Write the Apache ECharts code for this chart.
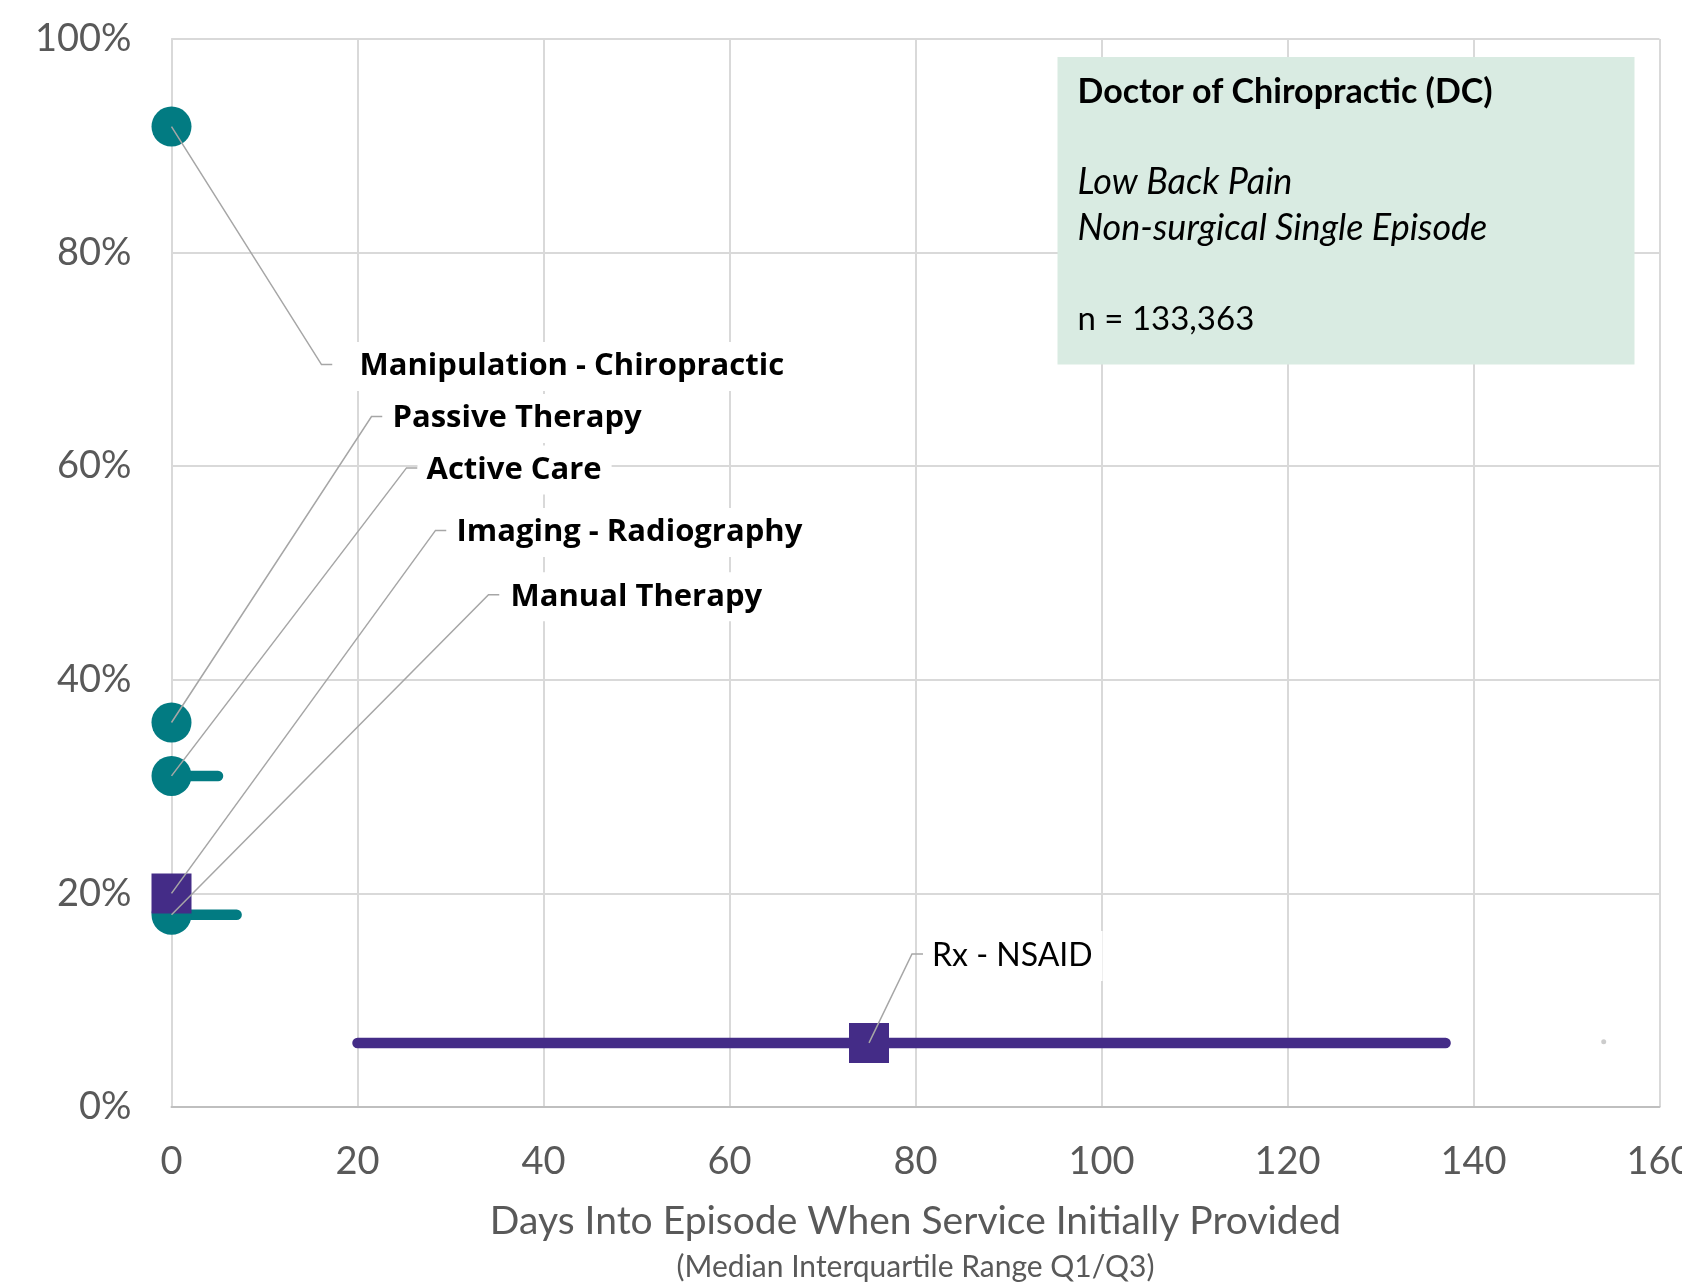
<!DOCTYPE html>
<html>
<head>
<meta charset="utf-8">
<script src="https://cdn.jsdelivr.net/npm/echarts@6/dist/echarts.min.js"></script>
<style>
  html, body { margin: 0; padding: 0; background: #ffffff; }
  #chart { width: 1682px; height: 1285px; }
</style>
</head>
<body>
<div id="chart"></div>
<script>
// ---------------- data ----------------
const services = ['Manipulation - Chiropractic', 'Passive Therapy', 'Active Care', 'Imaging - Radiography', 'Manual Therapy', 'Rx - NSAID'];
const serviceType = ['therapy', 'therapy', 'therapy', 'other', 'therapy', 'other'];
const shareOfEpisodes = [0.918, 0.36, 0.31, 0.20, 0.18, 0.06];
const medianDay = [0, 0, 0, 0, 0, 75];
const q1Day = [0, 0, 0, 0, 0, 20];
const q3Day = [0, 0, 5, 0, 7, 137];
const strayPoint = [[154, 0.061]];
const xTicks = [0, 20, 40, 60, 80, 100, 120, 140, 160];
const yTicks = [0, 0.2, 0.4, 0.6, 0.8, 1.0];
const infoLines = ['Doctor of Chiropractic (DC)', 'Low Back Pain', 'Non-surgical Single Episode', 'n = 133,363'];
const xTitle = 'Days Into Episode When Service Initially Provided';
const xSubtitle = '(Median Interquartile Range Q1/Q3)';

// ---------------- styles / layout ----------------
const FONT = 'Lato';
const LABEL_BOLD_FONT = 'bold 31px "Open Sans"';
const LABEL_REG_FONT = '32px Lato';
const typeColor = { therapy: '#027b82', other: '#442c87' };
const typeSymbol = { therapy: 'circle', other: 'rect' };
// label placement: pixel offsets from the marker to the label text start / centre
const labelPlacement = {
  'Manipulation - Chiropractic': { dx: 188, dy: 240, gap: 27, bold: true },
  'Passive Therapy': { dx: 221, dy: -304, gap: 10, bold: true },
  'Active Care': { dx: 255, dy: -306, gap: 9, bold: true },
  'Imaging - Radiography': { dx: 285, dy: -361, gap: 10, bold: true },
  'Manual Therapy': { dx: 339, dy: -318, gap: 11, bold: true },
  'Rx - NSAID': { dx: 63, dy: -87, gap: 9, bold: false }
};

const GRID = { left: 171.5, top: 39, width: 1488, height: 1068 };

const chart = echarts.init(document.getElementById('chart'), null, { renderer: 'canvas' });

function idxOf(type) {
  const out = [];
  serviceType.forEach((t, i) => { if (t === type) out.push(i); });
  return out;
}

const series = [];
['therapy', 'other'].forEach((type, k) => {
  const ids = idxOf(type);
  const color = typeColor[type];
  series.push({
    type: 'custom',
    name: type + '-iqr',
    z: 2 + k * 2,
    encode: { x: [1, 2], y: 0 },
    data: ids.map(i => [shareOfEpisodes[i], q1Day[i], q3Day[i]]),
    renderItem: function (params, api) {
      const y = api.value(0), a = api.value(1), b = api.value(2);
      if (a === b) return null;
      const p1 = api.coord([a, y]);
      const p2 = api.coord([b, y]);
      return {
        type: 'line',
        shape: { x1: p1[0], y1: p1[1], x2: p2[0], y2: p2[1] },
        style: { stroke: color, lineWidth: 10.5, lineCap: 'round', fill: 'none' }
      };
    }
  });
  series.push({
    type: 'scatter',
    name: type,
    z: 3 + k * 2,
    symbol: typeSymbol[type],
    symbolSize: 40,
    itemStyle: { color: color, opacity: 1 },
    emphasis: { disabled: true },
    data: ids.map(i => [medianDay[i], shareOfEpisodes[i]])
  });
});

series.push({
  type: 'scatter',
  name: 'stray',
  z: 6,
  symbol: 'circle',
  symbolSize: 5,
  itemStyle: { color: '#bfbfbf' },
  data: strayPoint
});

series.push({
  type: 'custom',
  name: 'labels',
  z: 10,
  encode: { x: 0, y: 1 },
  data: services.map((s, i) => [medianDay[i], shareOfEpisodes[i], i]),
  renderItem: function (params, api) {
    const i = api.value(2);
    const name = services[i];
    const L = labelPlacement[name];
    const p = api.coord([api.value(0), api.value(1)]);
    const tx = p[0] + L.dx;
    const ty = p[1] + L.dy;
    const ex = tx - L.gap;
    const ey = ty - 2;
    return {
      type: 'group',
      children: [
        {
          type: 'polyline',
          shape: { points: [[p[0], p[1]], [ex - 11, ey], [ex, ey]] },
          style: { stroke: '#a6a6a6', lineWidth: 1.5, fill: 'none' }
        },
        {
          type: 'text',
          x: ex,
          y: ty,
          style: {
            text: name,
            font: L.bold ? LABEL_BOLD_FONT : LABEL_REG_FONT,
            fill: '#000000',
            align: 'left',
            verticalAlign: 'middle',
            backgroundColor: '#ffffff',
            padding: [9, 10, 9, L.gap]
          }
        }
      ]
    };
  }
});

const infoY = [92, 182.5, 228, 319.5];
const infoFont = ['bold 34px ' + FONT, 'italic 36px ' + FONT, 'italic 36px ' + FONT, '33px ' + FONT];

const graphics = [
  {
    type: 'rect',
    shape: { x: 1057.5, y: 57, width: 577, height: 307.5 },
    style: { fill: '#d9ebe2' },
    z: 20
  }
];
infoLines.forEach((t, i) => {
  graphics.push({
    type: 'text',
    x: 1077.5,
    y: infoY[i],
    z: 21,
    style: { text: t, font: infoFont[i], fill: '#000000', align: 'left', verticalAlign: 'middle' }
  });
});
graphics.push({
  type: 'text', x: GRID.left + GRID.width / 2, y: 1221, z: 21,
  style: { text: xTitle, font: '39px ' + FONT, fill: '#595959', align: 'center', verticalAlign: 'middle' }
});
graphics.push({
  type: 'text', x: GRID.left + GRID.width / 2, y: 1267, z: 21,
  style: { text: xSubtitle, font: '30px ' + FONT, fill: '#595959', align: 'center', verticalAlign: 'middle' }
});

const option = {
  animation: false,
  backgroundColor: '#ffffff',
  grid: {
    left: GRID.left, top: GRID.top, width: GRID.width, height: GRID.height,
    containLabel: false, outerBoundsMode: 'none'
  },
  xAxis: {
    type: 'value',
    min: xTicks[0],
    max: xTicks[xTicks.length - 1],
    interval: xTicks[1] - xTicks[0],
    axisLine: { show: true, lineStyle: { color: '#bfbfbf', width: 2 } },
    axisTick: { show: false },
    axisLabel: { show: true, fontFamily: FONT, fontSize: 38, color: '#595959', margin: 36, hideOverlap: false, showMaxLabel: true, showMinLabel: true },
    splitLine: { show: true, lineStyle: { color: '#d9d9d9', width: 2 } }
  },
  yAxis: {
    type: 'value',
    min: yTicks[0],
    max: yTicks[yTicks.length - 1],
    interval: yTicks[1] - yTicks[0],
    axisLine: { show: true, lineStyle: { color: '#d9d9d9', width: 2 } },
    axisTick: { show: false },
    axisLabel: {
      fontFamily: FONT, fontSize: 38, color: '#595959', margin: 40,
      formatter: v => Math.round(v * 100) + '%'
    },
    splitLine: { show: true, lineStyle: { color: '#d9d9d9', width: 2 } }
  },
  graphic: graphics,
  series: series
};

chart.setOption(option);
</script>
</body>
</html>
